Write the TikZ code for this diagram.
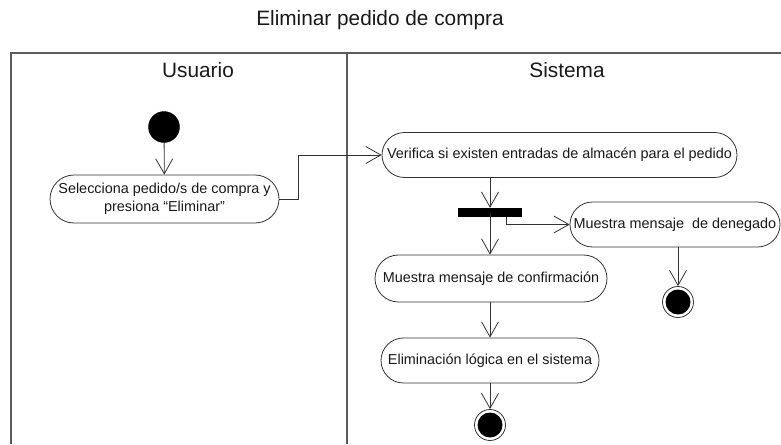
\documentclass[tikz,border=0pt]{standalone}
\usepackage{fontspec}
\setmainfont{Liberation Sans}
\usetikzlibrary{shapes.misc,arrows.meta,calc}
\definecolor{ln}{gray}{0.2}
\definecolor{tx}{gray}{0.1}
\begin{document}
\begin{tikzpicture}[x=1pt,y=-1pt,
  act/.style={rounded rectangle,draw=ln,line width=0.8pt,fill=white,text=tx,inner sep=0pt,
    font=\fontsize{14.4}{18}\selectfont,align=center},
  flow/.style={draw=ln,line width=0.8pt,-{Straight Barb[length=15pt,width=17pt,line width=0.8pt]}},
  startnode/.style={circle,fill=black,draw=black,minimum size=31pt,inner sep=0pt},
  endouter/.style={circle,draw=ln,line width=0.8pt,fill=white,minimum size=31pt,inner sep=0pt},
  endinner/.style={circle,fill=black,minimum size=25pt,inner sep=0pt},
  lane/.style={draw=ln!80,line width=1.3pt},
  head/.style={font=\fontsize{20.8}{24}\selectfont,text=tx}]
\useasboundingbox (0,0) rectangle (781,444);
% frame
\draw[lane] (11,444) -- (11,53) -- (781,53);
\draw[lane] (347,53) -- (347,444);
% titles
\node[head] (title) at (380,20) {Eliminar pedido de compra};
\node[head] (husr) at (198,70) {Usuario};
\node[head] (hsys) at (567,70) {Sistema};
% nodes
\node[startnode] (start) at (164,127) {};
\node[act,minimum width=229pt,minimum height=48pt] (n1) at (164.5,199) {Selecciona pedido/s de compra y\\presiona “Eliminar”};
\node[act,minimum width=355pt,minimum height=45pt] (n2) at (559.5,155) {Verifica si existen entradas de almacén para el pedido};
\node[fill=black,minimum width=64pt,minimum height=9pt,inner sep=0pt] (bar) at (490,212.5) {};
\node[act,minimum width=232pt,minimum height=47pt] (n3) at (491,278.5) {Muestra mensaje de confirmación};
\node[act,minimum width=210pt,minimum height=45pt] (n4) at (675,224.5) {Muestra mensaje\ \ de denegado};
\node[endouter] (end1) at (678,302) {};
\node[endinner] (end1i) at (end1) {};
\node[act,minimum width=218pt,minimum height=45pt] (n5) at (490,360.5) {Eliminación lógica en el sistema};
\node[endouter] (end2) at (490,425) {};
\node[endinner] (end2i) at (end2) {};
% connectors
\draw[flow] (start) -- (n1);
\draw[flow] (n1.east) -- ++(19,0) |- (n2.west);
\draw[flow] (bar.north |- n2.south) -- (bar.north);
\draw[flow] (bar.center) -- (bar.center |- n3.north);
\coordinate (bsplit) at ($(bar.south east)+(-16,0)$);
\draw[flow] (bsplit) |- (n4.west);
\draw[flow] (end1.north |- n4.south) -- (end1.north);
\draw[flow] (n5.north |- n3.south) -- (n5.north);
\draw[flow] (n5.south) -- (end2.north);
\end{tikzpicture}
\end{document}
